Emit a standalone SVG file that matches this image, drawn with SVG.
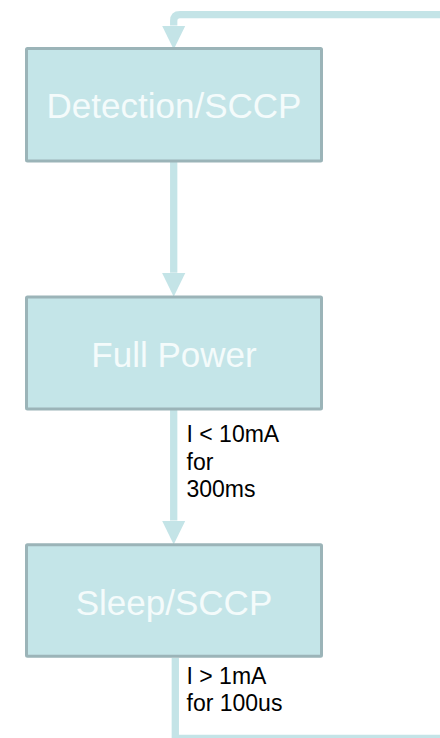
<svg xmlns="http://www.w3.org/2000/svg" width="440" height="738" viewBox="0 0 440 738">
<style>
.box{fill:#c4e5e8;stroke:#9bb4b8;stroke-width:3}
.btxt{font-family:"Liberation Sans",Arial,sans-serif;font-size:35px;fill:#f4fbfb;text-anchor:middle}
.lbl{font-family:"Liberation Sans",Arial,sans-serif;font-size:23px;fill:#000}
.conn{fill:none;stroke:#c4e4e7;stroke-width:7.3}
</style>
<defs>
<marker id="ah" markerUnits="userSpaceOnUse" markerWidth="24" markerHeight="24" viewBox="0 0 23.5 23" refX="0" refY="11.5" orient="auto">
<path d="M0,0 L23.5,11.5 L0,23 z" fill="#c4e4e7"/>
</marker>
</defs>
<rect width="440" height="738" fill="#fff"/>
<g id="connectors">
<path class="conn" d="M173.7,162 V272.7" marker-end="url(#ah)"/>
<path class="conn" d="M173.7,410 V520.5" marker-end="url(#ah)"/>
<path class="conn" d="M175.3,658 V738.3 H470 V14.7 H180 Q173.7,14.7 173.7,21 V25.5" marker-end="url(#ah)"/>
</g>
<g id="node-detection">
<rect class="box" x="26.5" y="48.5" width="295" height="112.5" rx="1"/>
<text class="btxt" x="174" y="118.3">Detection/SCCP</text>
</g>
<g id="node-fullpower">
<rect class="box" x="26.5" y="297" width="295" height="112" rx="1"/>
<text class="btxt" x="174" y="367.3">Full Power</text>
</g>
<g id="node-sleep">
<rect class="box" x="26.5" y="544.8" width="295" height="111.5" rx="1"/>
<text class="btxt" x="174" y="615">Sleep/SCCP</text>
</g>
<g id="labels">
<text class="lbl" x="186.5" y="442.3">I &lt; 10mA</text>
<text class="lbl" x="186.5" y="470">for</text>
<text class="lbl" x="186.5" y="497.3">300ms</text>
<text class="lbl" x="186.5" y="684">I &gt; 1mA</text>
<text class="lbl" x="186.5" y="710.7">for 100us</text>
</g>
</svg>
